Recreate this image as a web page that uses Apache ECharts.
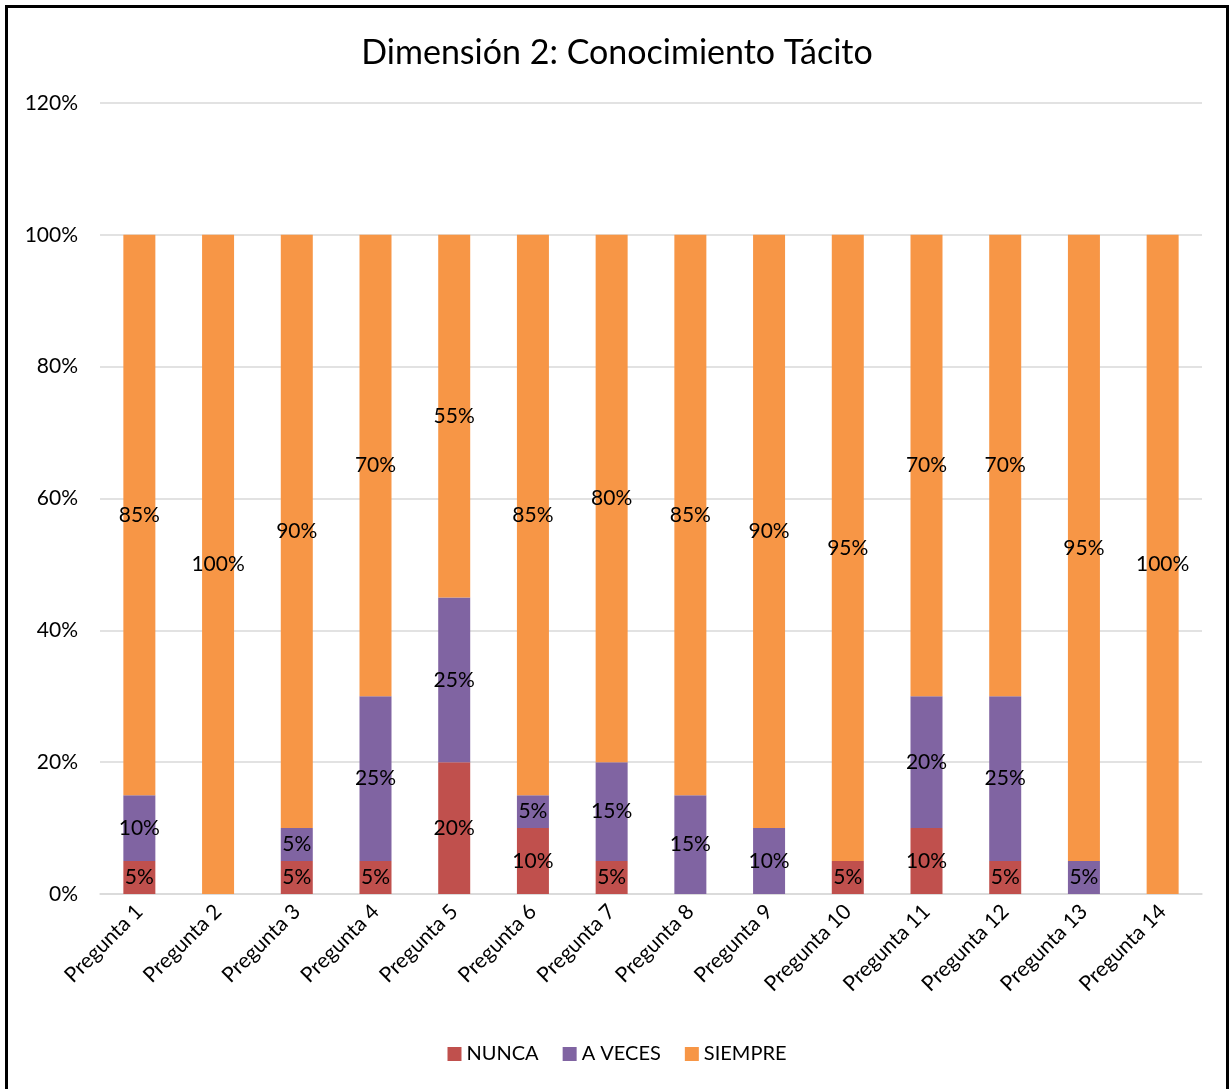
<!DOCTYPE html>
<html>
<head>
<meta charset="utf-8">
<script src="https://cdn.jsdelivr.net/npm/echarts@6/dist/echarts.min.js"></script>
<style>
  html, body { margin: 0; padding: 0; background: #fff; overflow: hidden; }
  #frame {
    position: absolute; left: 5px; top: 5px;
    width: 1218px; height: 1100px;
    border: 3px solid #000; background: #fff;
  }
  #chart { width: 1218px; height: 1100px; }
</style>
</head>
<body>
<div id="frame"><div id="chart"></div></div>
<script>
const categories = ['Pregunta 1', 'Pregunta 2', 'Pregunta 3', 'Pregunta 4', 'Pregunta 5', 'Pregunta 6', 'Pregunta 7',
  'Pregunta 8', 'Pregunta 9', 'Pregunta 10', 'Pregunta 11', 'Pregunta 12', 'Pregunta 13', 'Pregunta 14']
const nunca = [5, 0, 5, 5, 20, 10, 5, 0, 0, 5, 10, 5, 0, 0]
const aVeces = [10, 0, 5, 25, 25, 5, 15, 15, 10, 0, 20, 25, 5, 0]
const siempre = [85, 100, 90, 70, 55, 85, 80, 85, 90, 95, 70, 70, 95, 100]

const font = 'Lato, "Open Sans", sans-serif'

const chart = echarts.init(document.getElementById('chart'))

const makeSeries = (name, data, color) => ({
  name: name,
  type: 'bar',
  stack: 'total',
  barWidth: 32,
  data: data,
  itemStyle: { color: color },
  label: {
    show: true,
    position: 'inside',
    color: '#000',
    fontFamily: font,
    fontSize: 21,
    formatter: p => (p.value ? p.value + '%' : '')
  }
})

const option = {
  animation: false,
  title: {
    text: 'Dimensión 2: Conocimiento Tácito',
    left: 'center',
    top: 23,
    textStyle: { fontFamily: font, fontSize: 34, fontWeight: 'normal', color: '#000' }
  },
  legend: {
    data: ['NUNCA', 'A VECES', 'SIEMPRE'],
    bottom: 39,
    left: 'center',
    icon: 'rect',
    itemWidth: 14,
    itemHeight: 14,
    itemGap: 24,
    textStyle: { fontFamily: font, fontSize: 20, color: '#000' }
  },
  grid: { left: 92, right: 24, top: 95, bottom: 214 },
  xAxis: {
    type: 'category',
    data: categories,
    axisLine: { lineStyle: { color: '#d9d9d9', width: 1.5 } },
    axisTick: { show: false },
    axisLabel: { rotate: 45, fontFamily: font, fontSize: 21, color: '#000', margin: 14, interval: 0 }
  },
  yAxis: {
    type: 'value',
    min: 0,
    max: 120,
    interval: 20,
    axisLine: { show: false },
    axisTick: { show: false },
    splitLine: { lineStyle: { color: '#d9d9d9', width: 1.5 } },
    axisLabel: { formatter: '{value}%', fontFamily: font, fontSize: 21, color: '#000', margin: 22 }
  },
  series: [
    makeSeries('NUNCA', nunca, '#c0504d'),
    makeSeries('A VECES', aVeces, '#8064a2'),
    makeSeries('SIEMPRE', siempre, '#f79646')
  ]
}

chart.setOption(option)
</script>
</body>
</html>
